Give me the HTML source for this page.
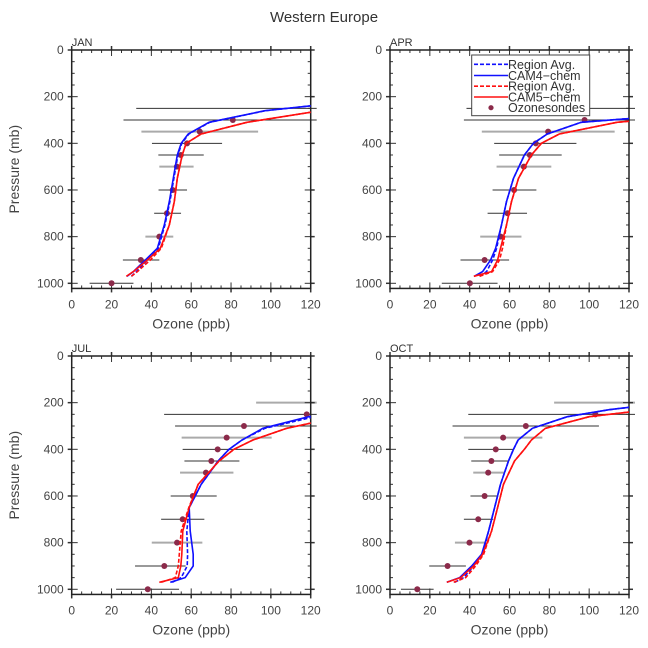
<!DOCTYPE html>
<html><head><meta charset="utf-8">
<style>
body{margin:0;background:#fff;}
svg{display:block;font-family:"Liberation Sans",sans-serif;}
</style></head>
<body>
<svg id="chart" width="648" height="648" viewBox="0 0 648 648">
<text x="324" y="22" text-anchor="middle" font-size="15" fill="#333">Western Europe</text>
</svg>
<script>
// ---- shared data ----
const months = ["JAN","APR","JUL","OCT"];
const sondeP = [1000,900,800,700,600,500,450,400,350,300,250,200];
const modelP = [970,950,900,850,750,650,550,450,400,360,310,260,230,200];

// Ozonesonde means (null = off-scale / missing)
const sondeJAN = [20,34.7,44,47.8,50.7,52.8,54.8,57.9,64.3,80.9,null,null];
const sondeAPR = [40.1,47.5,55.6,59,62.3,67.2,70.2,73.2,79.4,97.7,null,null];
const sondeJUL = [38.2,46.5,52.9,55.7,60.8,67.4,70.1,73.3,77.8,86.5,118,null];
const sondeOCT = [13.7,28.9,39.9,44.3,47.5,49.3,50.9,53.1,56.8,68.2,103.1,null];
// Error bar low/high
const lowJAN = [9,25.7,37,41.4,43.6,44,43.5,40.3,35,26,32.4,null];
const highJAN = [31,44,51,54.9,57.9,61.2,66.3,75.5,93.6,130,130,null];
const lowAPR = [26,35.4,45.3,49,51.5,53.5,54.8,52.3,46.1,37.1,38.4,null];
const highAPR = [54,59.8,66,68.8,73.5,81,86.2,93.6,112.8,130,130,null];
const lowJUL = [22.3,31.8,40.2,44.9,49.7,54.4,56.6,55.7,55.2,51.9,46.4,92.6];
const highJUL = [53.9,57.2,65.6,66.6,72.8,81.2,84.2,90.9,100.4,130,130,130];
const lowOCT = [5.5,19.7,32.6,37.1,40.4,41.8,40.8,39.3,37.1,31.4,39.3,82.4];
const highOCT = [21.9,38.1,47.6,51.8,54.3,57.6,59.3,61.8,76.5,104.9,130,130];

// Model profiles
const cam4AvgJAN = [30,32.5,38,43.5,46.8,49.3,51.3,53.3,55.3,58.8,69.3,97.3,130,160];
const cam4JAN = [27.7,31,37,43,46.5,49,51,53,55,58.5,69,97,130,160];
const cam5AvgJAN = [30,33,39.5,45,49,51.5,53,55.5,57.5,65,88,125,150,180];
const cam5JAN = [27.4,31,38,44.5,49,51.5,53,55.5,57.5,65,88,125,150,180];

const cam4AvgAPR = [45,48.5,51.5,53.5,56,58.5,62,67.5,72,79,96,170,200,230];
const cam4APR = [42.3,46.5,50.5,53,56,58.5,62,67.5,72,79,96,170,200,230];
const cam5AvgAPR = [45,51.5,55,56.5,58.5,61,64.5,71,76,85,114,180,210,240];
const cam5APR = [42.1,51,54,55.5,58.5,61,64.5,71,76,85,114,180,210,240];

const cam4AvgJUL = [50.5,55,58,58.2,57.8,59,65,73.5,79,85.5,97,122,137,152];
const cam4JUL = [49.5,57,61,61,59.5,59,65,73.5,79,85.5,96,119,135,150];
const cam5AvgJUL = [45,52,53.5,54,55,58.8,63.5,74,81.5,91,108,135,150,165];
const cam5JUL = [44,53.5,54.8,55.3,55.8,59,63.5,74,81.5,91,108,135,150,165];

const cam4AvgOCT = [32.5,37,42,46.5,49.5,52.5,55.5,59.5,62,64.3,71.5,89,110,140];
const cam4OCT = [28.5,35,41,46,49.5,52.5,55.5,59.5,62,64.3,71.5,89,110,140];
const cam5AvgOCT = [32,38,43,47,51,54,57,62.5,67.5,71,78,100,130,160];
const cam5OCT = [28.5,35.5,42,46.5,51,54,57,62.5,67.5,71,78,100,130,160];

const xTicks = [0,20,40,60,80,100,120];
const yTicks = [0,200,400,600,800,1000];

const panels = [
 {m:"JAN",x0:71.7,y0:50,s:sondeJAN,lo:lowJAN,hi:highJAN,c4a:cam4AvgJAN,c4:cam4JAN,c5a:cam5AvgJAN,c5:cam5JAN,yt:true},
 {m:"APR",x0:390,y0:50,s:sondeAPR,lo:lowAPR,hi:highAPR,c4a:cam4AvgAPR,c4:cam4APR,c5a:cam5AvgAPR,c5:cam5APR,yt:false},
 {m:"JUL",x0:71.7,y0:356,s:sondeJUL,lo:lowJUL,hi:highJUL,c4a:cam4AvgJUL,c4:cam4JUL,c5a:cam5AvgJUL,c5:cam5JUL,yt:true},
 {m:"OCT",x0:390,y0:356,s:sondeOCT,lo:lowOCT,hi:highOCT,c4a:cam4AvgOCT,c4:cam4OCT,c5a:cam5AvgOCT,c5:cam5OCT,yt:false}
];
const W=239, H1000=233.3, PMAX=1022;
const svg=document.getElementById('chart');
const NS='http://www.w3.org/2000/svg';
function el(t,a,p){const e=document.createElementNS(NS,t);for(const k in a)e.setAttribute(k,a[k]);(p||svg).appendChild(e);return e;}
const grayP=[350,500,800,200];

panels.forEach((P,i)=>{
  const xs=v=>P.x0+v/120*W;
  const ys=p=>P.y0+p/1000*H1000;
  const g=el('g',{});
  
  
  const cid='clip'+i;
  const cp=el('clipPath',{id:cid},g);
  el('rect',{x:P.x0,y:P.y0,width:W,height:ys(PMAX)-P.y0},cp);
  const cid2='clipw'+i;
  const cp2=el('clipPath',{id:cid2},g);
  el('rect',{x:P.x0-2,y:P.y0,width:W+8,height:ys(PMAX)-P.y0},cp2);
  // month label
  const ml=el('text',{x:P.x0,y:P.y0-4,'font-size':11,fill:'#333'},g);
  ml.textContent=P.m;
  
  
  // error bars (behind everything)
  const bg=el('g',{'clip-path':`url(#${cid2})`},g);
  sondeP.forEach((p,k)=>{if(P.lo[k]==null)return;const gr=grayP.includes(p);
    const b=el('line',{x1:xs(P.lo[k]),x2:xs(Math.min(P.hi[k],124)),y1:ys(p),y2:ys(p),stroke:gr?'#aaa':'#333','stroke-width':gr?2:1},bg);
    
    });
  // minor ticks
  for(let p=0;p<=1000;p+=50){const y=ys(p);const L=(p%200===0)?6:3;
    el('line',{x1:P.x0,x2:P.x0+L,y1:y,y2:y,stroke:'#333','stroke-width':1},g);
    el('line',{x1:P.x0+W,x2:P.x0+W-L,y1:y,y2:y,stroke:'#333','stroke-width':1},g);
    if(p%200===0){el('line',{x1:P.x0-4,x2:P.x0,y1:y,y2:y,stroke:'#333','stroke-width':1.5},g);el('line',{x1:P.x0+W,x2:P.x0+W+4,y1:y,y2:y,stroke:'#333','stroke-width':1.5},g);}
  }
  for(let v=0;v<=120;v+=5){const x=xs(v);const L=(v%20===0)?6:3;
    el('line',{x1:x,x2:x,y1:P.y0,y2:P.y0+L,stroke:'#333','stroke-width':1},g);
    el('line',{x1:x,x2:x,y1:ys(PMAX),y2:ys(PMAX)-L,stroke:'#333','stroke-width':1},g);
    if(v%20===0){el('line',{x1:x,x2:x,y1:P.y0-4,y2:P.y0,stroke:'#333','stroke-width':1.5},g);el('line',{x1:x,x2:x,y1:ys(PMAX),y2:ys(PMAX)+4,stroke:'#333','stroke-width':1.5},g);}
  }
  // frame
  const fr=el('rect',{x:P.x0,y:P.y0,width:W,height:ys(PMAX)-P.y0,fill:'none',stroke:'#222','stroke-width':1.5},g);
  
  
  // tick labels
  yTicks.forEach(p=>{const t=el('text',{x:P.x0-8,y:ys(p)+4,'text-anchor':'end','font-size':12,fill:'#444'},g);t.textContent=p;
    
    });
  xTicks.forEach(v=>{const t=el('text',{x:xs(v),y:ys(PMAX)+20,'text-anchor':'middle','font-size':12,fill:'#444'},g);t.textContent=v;
    
    });
  const xt=el('text',{x:P.x0+W/2,y:ys(PMAX)+40,'text-anchor':'middle','font-size':14,fill:'#444'},g);xt.textContent='Ozone (ppb)';
  
  
  if(P.yt){const yc=(P.y0+ys(PMAX))/2;const t=el('text',{x:19,y:yc,'text-anchor':'middle','font-size':14,fill:'#444',transform:`rotate(-90 19 ${yc})`},g);t.textContent='Pressure (mb)';
    
    }
  const cg=el('g',{'clip-path':`url(#${cid})`},g);
  // sonde points
  sondeP.forEach((p,k)=>{if(P.s[k]==null)return;
    const c=el('circle',{cx:xs(P.s[k]),cy:ys(p),r:3,fill:'#8b2a4a'},cg);
    
    });
  // model lines
  const series=[[P.c4a,'#1010ff',true,'cam4-region-avg'],[P.c4,'#1010ff',false,'cam4-chem'],[P.c5a,'#ff1010',true,'cam5-region-avg'],[P.c5,'#ff1010',false,'cam5-chem']];
  series.forEach(([vals,col,dash,name])=>{
    const pts=vals.map((v,k)=>xs(v).toFixed(1)+','+ys(modelP[k]).toFixed(1)).join(' ');
    const l=el('polyline',{points:pts,fill:'none',stroke:col,'stroke-width':1.6,'stroke-dasharray':dash?'4,2':'none'},cg);
    
    
  });
});
// legend
const lg=el('g',{});


el('rect',{x:471.7,y:55,width:118,height:60.7,fill:'#fff',stroke:'#444','stroke-width':1},lg);
const legItems=[['Region Avg.','#1010ff',true,false],['CAM4\u2212chem','#1010ff',false,false],['Region Avg.','#ff1010',true,false],['CAM5\u2212chem','#ff1010',false,false],['Ozonesondes','#8b2a4a',false,true]];
const legY=[64.3,75.5,86.2,97,107.7];
legItems.forEach(([lab,col,dash,dot],k)=>{
  const y=legY[k];
  const e=el('g',{},lg);
  
  
  if(dot){el('circle',{cx:491,cy:y,r:2.6,fill:col},e);}
  else el('line',{x1:474,x2:508,y1:y,y2:y,stroke:col,'stroke-width':1.6,'stroke-dasharray':dash?'4,2':'none'},e);
  const t=el('text',{x:508,y:y+4.5,'font-size':12.5,fill:'#333'},e);t.textContent=lab;
});
</script>
</body></html>
